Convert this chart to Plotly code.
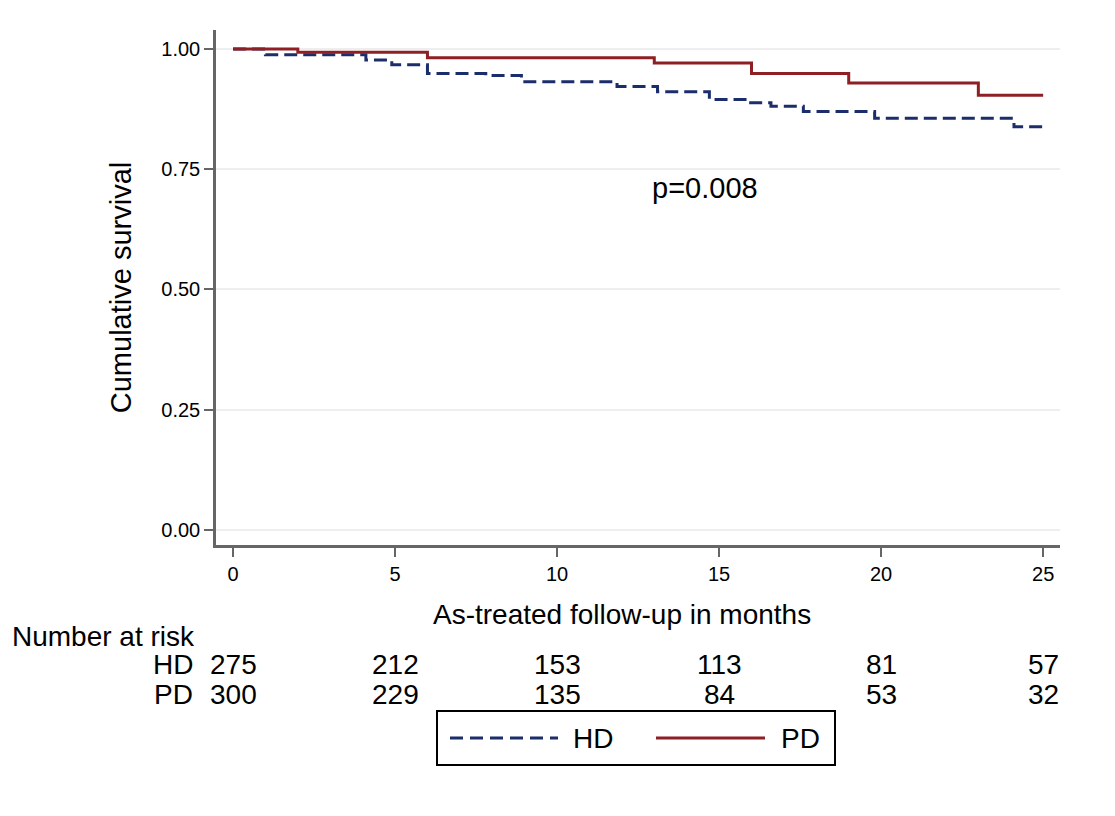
import plotly.graph_objects as go

# ---- data ----
pd_time = [0, 2, 6, 13, 16, 19, 23, 25]
pd_surv = [1.0, 0.993, 0.982, 0.971, 0.949, 0.929, 0.904, 0.904]
hd_time = [0, 1, 4.1, 4.9, 6.0, 7.8, 8.9, 11.85, 13.1, 14.7, 15.9, 16.6, 17.6, 19.8, 24.1, 25]
hd_surv = [1.0, 0.988, 0.977, 0.967, 0.949, 0.945, 0.932, 0.922, 0.911, 0.895, 0.888, 0.881, 0.870, 0.856, 0.838, 0.838]

risk_times = [0, 5, 10, 15, 20, 25]
risk_hd = [275, 212, 153, 113, 81, 57]
risk_pd = [300, 229, 135, 84, 53, 32]

x_ticks = [0, 5, 10, 15, 20, 25]
y_ticks = [0.0, 0.25, 0.5, 0.75, 1.0]
y_ticklabels = ["0.00", "0.25", "0.50", "0.75", "1.00"]

HD_COLOR = "#1c2d6b"
PD_COLOR = "#8e1f24"
FONT = "Liberation Sans, Arial, Helvetica, sans-serif"

fig = go.Figure()
fig.add_trace(go.Scatter(x=hd_time, y=hd_surv, mode="lines", name="HD",
                         line=dict(shape="hv", color=HD_COLOR, width=3, dash="13px,6px")))
fig.add_trace(go.Scatter(x=pd_time, y=pd_surv, mode="lines", name="PD",
                         line=dict(shape="hv", color=PD_COLOR, width=3)))

# page has an 8px body margin: figure drawn at (8, 8)
OFF = 8
W, H = 1115 - OFF, 816 - OFF
PX0, PX1, PY0, PY1 = 216, 1060, 30, 545   # plot area in screen pixels
L = PX0 - OFF
T = PY0 - OFF
pw, ph = PX1 - PX0, PY1 - PY0
R = W - L - pw
B = H - T - ph


def px(sx):
    return (sx - PX0) / pw


def py(sy):
    return (PY1 - sy) / ph


def txt(x, y, text, size, xref="paper", yref="paper", xanchor="center"):
    return dict(x=x, y=y, xref=xref, yref=yref, text=text, showarrow=False,
                xanchor=xanchor, yanchor="middle", font=dict(size=size, color="black"))


ann = []
ann.append(txt(14.57, 0.711, "p=0.008", 29, xref="x", yref="y"))
ann.append(txt(px(622), py(614), "As-treated follow-up in months", 28))
ann.append(txt(px(10), py(636), "Number at risk", 28, xanchor="left"))
for lab, sy in [("HD", 664), ("PD", 695)]:
    ann.append(txt(px(195), py(sy), lab, 28, xanchor="right"))
for t, a, b in zip(risk_times, risk_hd, risk_pd):
    ann.append(txt(t, py(664), str(a), 28, xref="x"))
    ann.append(txt(t, py(695), str(b), 28, xref="x"))
ann.append(txt(px(571), py(738), "HD", 28, xanchor="left"))
ann.append(txt(px(779), py(738), "PD", 28, xanchor="left"))

shapes = [
    dict(type="rect", xref="paper", yref="paper", x0=px(437), x1=px(835), y0=py(765), y1=py(711),
         line=dict(color="black", width=2), fillcolor="white"),
    dict(type="line", xref="paper", yref="paper", x0=px(450), x1=px(558), y0=py(738), y1=py(738),
         line=dict(color=HD_COLOR, width=3, dash="13px,7px")),
    dict(type="line", xref="paper", yref="paper", x0=px(656), x1=px(765), y0=py(738), y1=py(738),
         line=dict(color=PD_COLOR, width=3)),
]

fig.update_layout(
    width=W, height=H,
    margin=dict(l=L, r=R, t=T, b=B, pad=0),
    paper_bgcolor="white", plot_bgcolor="white",
    font=dict(family=FONT, size=22, color="black"),
    showlegend=False,
    annotations=ann,
    shapes=shapes,
    xaxis=dict(range=[-0.525, 25.52], tickvals=x_ticks, ticktext=[str(v) for v in x_ticks],
               showgrid=False, zeroline=False, showline=True, linecolor="#666666", linewidth=2.5,
               ticks="outside", ticklen=9, tickwidth=2, tickcolor="#666666",
               tickfont=dict(size=20)),
    yaxis=dict(range=[-0.0318, 1.0395], tickvals=y_ticks, ticktext=y_ticklabels,
               showgrid=True, gridcolor="#eeeeee", gridwidth=1.5, zeroline=False,
               showline=True, linecolor="#666666", linewidth=2.5,
               ticks="outside", ticklen=9, tickwidth=2, tickcolor="#666666",
               tickfont=dict(size=20),
               title=dict(text="Cumulative survival", font=dict(size=29), standoff=22)),
)

fig.write_html("out.html")
